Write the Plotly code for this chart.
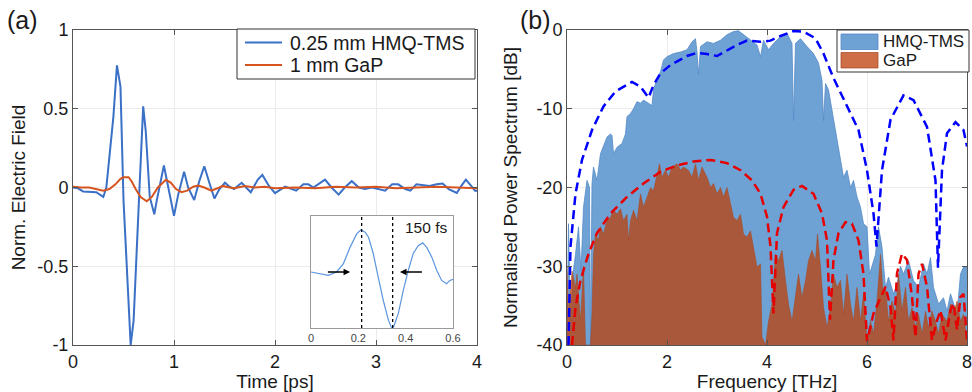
import plotly.graph_objects as go

# ---------------- Panel (a): normalised THz electric field ----------------
t_hmq = [0.00, 0.05, 0.10, 0.17, 0.23, 0.30, 0.33, 0.40, 0.435, 0.47, 0.50, 0.571, 0.60, 0.66,
         0.695, 0.72, 0.76, 0.805, 0.83, 0.90, 0.93, 1.00, 1.04, 1.10, 1.14, 1.20, 1.25, 1.30,
         1.35, 1.40, 1.45, 1.505, 1.55, 1.594, 1.67, 1.76, 1.83, 1.875, 1.94, 2.00, 2.10, 2.21,
         2.28, 2.33, 2.38, 2.43, 2.495, 2.56, 2.63, 2.69, 2.76, 2.83, 2.89, 2.96, 3.02, 3.09,
         3.16, 3.22, 3.29, 3.34, 3.40, 3.47, 3.53, 3.60, 3.66, 3.72, 3.80, 3.85, 3.89, 3.93,
         3.98, 4.00]
e_hmq = [0.0, -0.005, -0.025, -0.03, -0.03, -0.06, 0.0, 0.45, 0.775, 0.64, -0.08, -1.0, -0.845, 0.02,
         0.515, 0.36, -0.06, -0.17, -0.08, 0.14, 0.05, -0.18, -0.05, 0.10, 0.0, -0.08, 0.04, 0.135,
         0.03, -0.07, -0.01, 0.03, 0.005, -0.01, 0.03, -0.03, 0.05, 0.08, 0.01, -0.036, 0.006, -0.02,
         0.02, 0.02, 0.0, 0.02, 0.05, 0.0, -0.045, 0.0, 0.04, 0.0, -0.01, 0.0, -0.01, -0.02,
         0.02, 0.02, -0.01, -0.02, 0.02, 0.015, 0.01, 0.02, 0.025, -0.01, -0.035, 0.015, 0.05, 0.02,
         -0.02, -0.02]

t_gap = [0.00, 0.08, 0.16, 0.22, 0.30, 0.36, 0.42, 0.47, 0.50, 0.55, 0.58, 0.62, 0.67, 0.73,
         0.78, 0.84, 0.92, 0.97, 1.02, 1.075, 1.13, 1.19, 1.24, 1.30, 1.37, 1.43, 1.48, 1.55,
         1.60, 1.70, 1.80, 1.90, 2.00, 2.20, 2.40, 2.60, 2.80, 3.00, 3.20, 3.40, 3.60, 3.80, 4.00]
e_gap = [0.005, 0.0, 0.0, -0.01, -0.02, -0.01, 0.02, 0.055, 0.065, 0.065, 0.04, -0.01, -0.06, -0.087,
         -0.06, 0.0, 0.049, 0.03, -0.01, -0.03, -0.02, 0.005, 0.013, 0.0, -0.02, -0.005, 0.01, 0.0,
         -0.005, 0.01, 0.0, 0.005, -0.005, 0.0, -0.005, 0.005, 0.0, 0.005, -0.005, 0.0, 0.005, 0.0, -0.005]

# inset: zoom of the main cycle (0 - 0.6 ps)
t_inset = [0.0, 0.04, 0.073, 0.108, 0.137, 0.165, 0.193, 0.21, 0.229, 0.243, 0.263, 0.284, 0.305,
           0.327, 0.341, 0.35, 0.369, 0.39, 0.411, 0.432, 0.453, 0.472, 0.489, 0.51, 0.531, 0.552,
           0.573, 0.587, 0.60]
e_inset = [0.0, -0.04, -0.06, 0.0, 0.15, 0.44, 0.68, 0.75, 0.71, 0.62, 0.33, -0.09, -0.50,
           -0.86, -1.0, -0.97, -0.74, -0.33, 0.03, 0.33, 0.47, 0.52, 0.44, 0.27, 0.03, -0.15,
           -0.21, -0.15, -0.13]
marker_t = [0.214, 0.345]
inset_label = "150 fs"

# ---------------- Panel (b): normalised power spectra ----------------
f_hmq = [0.0, 0.03, 0.07, 0.12, 0.17, 0.23, 0.28, 0.33, 0.40, 0.45, 0.47, 0.50, 0.53, 0.60, 0.67,
         0.73, 0.80, 0.87, 0.90, 0.93, 1.00, 1.10, 1.17, 1.20, 1.27, 1.33, 1.40, 1.47, 1.53, 1.63,
         1.70, 1.73, 1.80, 1.87, 1.93, 2.00, 2.13, 2.27, 2.40, 2.50, 2.57, 2.60, 2.63, 2.67, 2.80,
         2.93, 3.07, 3.20, 3.33, 3.43, 3.53, 3.67, 3.80, 3.87, 3.93, 4.03, 4.13, 4.27, 4.40, 4.50,
         4.53, 4.57, 4.67, 4.80, 4.93, 5.03, 5.10, 5.13, 5.17, 5.23, 5.30, 5.37, 5.47, 5.53, 5.60,
         5.67, 5.73, 5.80, 5.87, 5.93, 6.00, 6.05, 6.10, 6.17, 6.23, 6.30, 6.37, 6.43, 6.53, 6.60,
         6.67, 6.73, 6.83, 6.93, 7.03, 7.13, 7.20, 7.27, 7.33, 7.43, 7.53, 7.60, 7.67, 7.73, 7.80,
         7.87, 7.93, 8.00]
p_hmq = [-40, -24.6, -37, -31, -28.5, -25, -30.6, -22.5, -19.1, -20, -40, -19.5, -17.4, -19.1, -15.7,
         -14.6, -13.6, -13.2, -13.4, -15.7, -14.9, -14.4, -13.2, -11, -10.6, -10, -9.1, -9.3, -8.9, -9.3,
         -9.6, -7.6, -6.2, -5.3, -3.8, -3.4, -3.0, -2.8, -2.5, -1.5, -1.1, -2.8, -5.7, -2.1, -1.5,
         -1.7, -1.3, -0.6, -0.2, -0.1, -0.6, -1.3, -1.9, -3.4, -1.3, -2.5, -1.7, -0.85, -0.4, -1.7,
         -11.5, -1.7, -1.1, -2.1, -3.0, -4.2, -6.4, -11.5, -6.8, -7.6, -10.2, -13.2, -16.6, -18.7, -17.8,
         -20, -19.1, -21.2, -22.5, -24.6, -25, -31, -30, -28.5, -25, -27.6, -32.7, -31.4, -33.5, -32.3,
         -30, -31, -29.3, -31.8, -32.7, -29.7, -31, -28.9, -32.7, -34.8, -34, -35.7, -33.5, -34.8, -36.1,
         -31, -30.1, -30.1]

f_gap = [0.0, 0.03, 0.10, 0.17, 0.20, 0.27, 0.33, 0.37, 0.40, 0.47, 0.50, 0.53, 0.57, 0.63, 0.67,
         0.73, 0.80, 0.87, 0.93, 1.00, 1.07, 1.13, 1.20, 1.23, 1.27, 1.33, 1.40, 1.47, 1.53, 1.60,
         1.67, 1.73, 1.80, 1.85, 1.90, 1.97, 2.03, 2.10, 2.20, 2.27, 2.33, 2.43, 2.50, 2.57, 2.63,
         2.70, 2.80, 2.87, 2.93, 3.00, 3.07, 3.13, 3.20, 3.27, 3.33, 3.40, 3.47, 3.53, 3.60, 3.67,
         3.73, 3.80, 3.87, 3.90, 3.97, 4.03, 4.10, 4.17, 4.23, 4.30, 4.37, 4.43, 4.50, 4.57, 4.63,
         4.70, 4.77, 4.83, 4.90, 4.97, 5.01, 5.07, 5.13, 5.20, 5.27, 5.33, 5.40, 5.47, 5.53, 5.60,
         5.67, 5.73, 5.80, 5.87, 5.93, 6.00, 6.07, 6.13, 6.20, 6.27, 6.32, 6.37, 6.43, 6.50, 6.57,
         6.63, 6.70, 6.77, 6.83, 6.90, 6.97, 7.03, 7.10, 7.17, 7.23, 7.30, 7.37, 7.43, 7.50, 7.60,
         7.67, 7.73, 7.80, 7.87, 7.93, 8.00]
p_gap = [-30, -36, -30.6, -32.7, -31, -37, -30, -40, -40, -40, -36, -28.5, -25.9, -26.7, -25,
         -25.9, -24.2, -23.8, -22.9, -23.4, -22.7, -24.2, -23.4, -26.7, -24.2, -22.9, -24.2, -20.8, -22.5, -21.2,
         -20, -20.4, -18.3, -17, -18.7, -17.8, -18.7, -17.4, -17, -17.8, -17.4, -17.8, -18.7, -17, -19.1,
         -17.4, -18.7, -20, -19.5, -20.8, -20, -21.2, -20, -22.1, -23.8, -24.2, -23.4, -25.9, -26.3, -25.5,
         -27.6, -30.1, -29.7, -39, -40, -37, -34.8, -28.5, -29.3, -28, -31.8, -34.8, -37, -33.5, -31,
         -34, -31.8, -29.3, -28, -29.3, -25.9, -30.1, -35.2, -37.8, -35.2, -31, -32.7, -31.8, -36.1, -31,
         -34.8, -37, -32.7, -37, -33.5, -39.5, -37, -38.6, -34.4, -28.5, -33.5, -32.7, -37, -34.4, -36.1,
         -31, -35.7, -32.7, -37, -35.2, -37.8, -36.1, -38.6, -35.7, -37.8, -35.7, -37, -38.6, -36.1, -37,
         -34.8, -36.1, -34.4, -37, -36.1, -39.5]

f_hmq_th = [0.03, 0.07, 0.17, 0.30, 0.50, 0.73, 0.97, 1.30, 1.47, 1.63, 1.73, 1.87, 2.07, 2.40,
            2.60, 2.80, 3.00, 3.20, 3.40, 3.60, 3.87, 4.07, 4.27, 4.53, 4.73, 4.97, 5.13, 5.33,
            5.60, 5.83, 6.00, 6.13, 6.19, 6.30, 6.47, 6.73, 6.93, 7.20, 7.37, 7.42, 7.50, 7.60,
            7.77, 7.93, 8.00]
p_hmq_th = [-40, -27.5, -20.8, -16.5, -12.7, -9.7, -7.8, -6.6, -7.2, -8.6, -7.0, -5.5, -4.45, -3.3,
            -2.9, -3.05, -3.3, -2.6, -1.9, -1.35, -1.5, -1.35, -0.76, -0.13, -0.2, -1.06, -3.0, -6.1,
            -9.7, -12.7, -17.8, -23.3, -27.5, -17.8, -11.4, -8.3, -8.9, -12.3, -19.1, -30.2, -17.8, -13.1,
            -11.7, -12.7, -14.8]

f_gap_th = [0.10, 0.17, 0.27, 0.43, 0.60, 0.87, 1.20, 1.53, 1.87, 2.20, 2.53, 2.87, 3.20, 3.47,
            3.70, 3.87, 4.00, 4.07, 4.13, 4.20, 4.33, 4.53, 4.70, 4.93, 5.10, 5.20, 5.26, 5.33,
            5.43, 5.57, 5.70, 5.83, 5.93, 6.00, 6.13, 6.27, 6.37, 6.47, 6.53, 6.60, 6.70, 6.80,
            6.90, 6.97, 7.03, 7.10, 7.20, 7.30, 7.40, 7.47, 7.57, 7.67, 7.73, 7.80, 7.87, 7.93, 8.00]
p_gap_th = [-40, -35.2, -31.8, -28.4, -25.8, -23.3, -21.2, -19.5, -18.0, -17.2, -16.7, -16.5, -16.9, -17.8,
            -19.1, -20.8, -23.7, -27.5, -36, -25.8, -22.5, -20.3, -19.8, -20.8, -23.3, -26.7, -36.8, -29.2,
            -25.8, -24.4, -24.6, -26.7, -31, -39.5, -36, -33.9, -32.6, -35.2, -39.4, -30.9, -28.4, -29.2,
            -33.9, -39, -31, -29.7, -32.6, -39.4, -36.9, -35.6, -39.4, -35.6, -34.7, -38.1, -33.9, -33.5, -39.4]

legend_a = ["0.25 mm HMQ-TMS", "1 mm GaP"]
legend_b = ["HMQ-TMS", "GaP"]

X_RANGE_A = [0, 4]
Y_RANGE_A = [-1, 1]
X_RANGE_B = [0, 8]
Y_RANGE_B = [-40, 0]

W, H = 972, 392
FONT = "Liberation Sans, Arial, Helvetica, sans-serif"
TXT = "#1a1a1a"
BLUE_LINE = "#3a70c6"
ORANGE_LINE = "#d6541f"
BLUE_FILL = "rgb(110,162,213)"
BLUE_EDGE = "rgb(85,138,198)"
ORANGE_FILL = "rgba(189,65,12,0.76)"
ORANGE_EDGE = "rgba(170,70,30,0.9)"


def px(x):
    return x / W


def py(y):
    return 1 - y / H


fig = go.Figure()

# panel (a)
fig.add_trace(go.Scatter(x=t_hmq, y=e_hmq, mode="lines", name=legend_a[0], showlegend=False,
                         line=dict(color=BLUE_LINE, width=2), xaxis="x", yaxis="y"))
fig.add_trace(go.Scatter(x=t_gap, y=e_gap, mode="lines", name=legend_a[1], showlegend=False,
                         line=dict(color=ORANGE_LINE, width=2), xaxis="x", yaxis="y"))

# inset
fig.add_trace(go.Scatter(x=t_inset, y=e_inset, mode="lines", showlegend=False,
                         line=dict(color="#5b95de", width=1.2), xaxis="x3", yaxis="y3"))

# panel (b)
fig.add_trace(go.Scatter(x=[X_RANGE_B[0], X_RANGE_B[1]], y=[Y_RANGE_B[0], Y_RANGE_B[0]], mode="lines",
                         line=dict(width=0), showlegend=False, hoverinfo="skip", xaxis="x2", yaxis="y2"))
fig.add_trace(go.Scatter(x=f_hmq, y=p_hmq, mode="lines", name=legend_b[0], fill="tonexty",
                         fillcolor=BLUE_FILL, line=dict(color=BLUE_EDGE, width=0.8),
                         showlegend=False, xaxis="x2", yaxis="y2"))
fig.add_trace(go.Scatter(x=[X_RANGE_B[0], X_RANGE_B[1]], y=[Y_RANGE_B[0], Y_RANGE_B[0]], mode="lines",
                         line=dict(width=0), showlegend=False, hoverinfo="skip", xaxis="x2", yaxis="y2"))
fig.add_trace(go.Scatter(x=f_gap, y=p_gap, mode="lines", name=legend_b[1], fill="tonexty",
                         fillcolor=ORANGE_FILL, line=dict(color=ORANGE_EDGE, width=0.6),
                         showlegend=False, xaxis="x2", yaxis="y2"))
fig.add_trace(go.Scatter(x=f_hmq_th, y=p_hmq_th, mode="lines", showlegend=False,
                         line=dict(color="#0000ff", width=2.5, dash="9px,5px"), xaxis="x2", yaxis="y2"))
fig.add_trace(go.Scatter(x=f_gap_th, y=p_gap_th, mode="lines", showlegend=False,
                         line=dict(color="#e60000", width=2.5, dash="9px,5px"), xaxis="x2", yaxis="y2"))

axis_common = dict(showline=True, linecolor="#555555", linewidth=1, mirror="ticks", ticks="inside",
                   ticklen=5, tickcolor="#555555", showgrid=True, gridcolor="#ebebeb", zeroline=False,
                   automargin=False, ticklabeloverflow="allow",
                   tickfont=dict(size=18, color=TXT, family=FONT))

ya_ticks = [-1, -0.5, 0, 0.5, 1]
yb_ticks = [-40, -30, -20, -10, 0]

fig.update_layout(
    template="none",
    width=W, height=H, margin=dict(l=0, r=0, t=0, b=0, autoexpand=False),
    paper_bgcolor="white", plot_bgcolor="white",
    font=dict(family=FONT, color=TXT),
    showlegend=False,
    xaxis=dict(domain=[px(73), px(477)], range=X_RANGE_A, tickvals=[0, 1, 2, 3, 4], anchor="y",
               title=dict(text="Time [ps]", font=dict(size=19), standoff=2), **axis_common),
    yaxis=dict(domain=[py(345), py(30)], range=Y_RANGE_A, tickvals=ya_ticks,
               ticktext=["%g" % v for v in ya_ticks], anchor="x",
               title=dict(text="Norm. Electric Field", font=dict(size=19), standoff=6), **axis_common),
    xaxis2=dict(domain=[px(567), px(967)], range=X_RANGE_B, tickvals=[0, 2, 4, 6, 8], anchor="y2",
                title=dict(text="Frequency [THz]", font=dict(size=19), standoff=2), **axis_common),
    yaxis2=dict(domain=[py(345), py(30)], range=Y_RANGE_B, tickvals=yb_ticks,
                ticktext=["%d" % v for v in yb_ticks], anchor="x2",
                title=dict(text="Normalised Power Spectrum [dB]", font=dict(size=19), standoff=13),
                **axis_common),
    xaxis3=dict(domain=[px(311), px(453)], range=[0, 0.6], tickvals=[0, 0.2, 0.4, 0.6],
                ticktext=["0", "0.2", "0.4", "0.6"], anchor="y3", showline=True, mirror=True,
                linecolor="#9a9a9a", linewidth=1, showgrid=False, zeroline=False, ticks="",
                automargin=False, tickfont=dict(size=11, color="#444444", family=FONT)),
    yaxis3=dict(domain=[py(328), py(216)], range=[-1.0, 1.0], anchor="x3", showline=True, mirror=True,
                linecolor="#9a9a9a", linewidth=1, showgrid=False, zeroline=False, ticks="",
                automargin=False, showticklabels=False),
)

shapes = [
    # white background of the inset
    dict(type="rect", xref="x3 domain", yref="y3 domain", x0=0, x1=1, y0=0, y1=1,
         fillcolor="white", line=dict(width=0), layer="below"),
]
for mt in marker_t:
    shapes.append(dict(type="line", xref="x3", yref="y3 domain", x0=mt, x1=mt, y0=0, y1=1,
                       line=dict(color="black", width=1.3, dash="dot")))

# legend (a)
shapes.append(dict(type="rect", xref="paper", yref="paper", x0=px(237), x1=px(475), y0=py(79), y1=py(29),
                   fillcolor="white", line=dict(color="#333333", width=1)))
rows_a = [42.5, 65]
for yy, col in zip(rows_a, [BLUE_LINE, ORANGE_LINE]):
    shapes.append(dict(type="line", xref="paper", yref="paper", x0=px(245), x1=px(282), y0=py(yy), y1=py(yy),
                       line=dict(color=col, width=2)))
# legend (b)
shapes.append(dict(type="rect", xref="paper", yref="paper", x0=px(837), x1=px(969), y0=py(72), y1=py(30),
                   fillcolor="white", line=dict(color="#333333", width=1)))
rows_b = [(34, 49.5), (52.5, 68)]
for (y0, y1), fc, lc in zip(rows_b, [BLUE_FILL, ORANGE_FILL], [BLUE_EDGE, ORANGE_EDGE]):
    shapes.append(dict(type="rect", xref="paper", yref="paper", x0=px(841), x1=px(878), y0=py(y1), y1=py(y0),
                       fillcolor=fc, line=dict(color=lc, width=0.8)))
fig.update_layout(shapes=shapes)

annotations = [
    dict(text="(a)", xref="paper", yref="paper", x=px(5), y=py(4), xanchor="left",
         yanchor="top", showarrow=False, font=dict(size=25, family=FONT, color=TXT)),
    dict(text="(b)", xref="paper", yref="paper", x=px(518), y=py(4), xanchor="left",
         yanchor="top", showarrow=False, font=dict(size=25, family=FONT, color=TXT)),
    dict(text=inset_label, xref="x3", yref="y3", x=0.585, y=0.79, xanchor="right", yanchor="middle",
         showarrow=False, font=dict(size=15.5, family=FONT, color=TXT)),
    dict(text="", xref="x3", yref="y3", x=0.165, y=0.0, ax=0.065, ay=0.0, axref="x3", ayref="y3",
         showarrow=True, arrowhead=2, arrowsize=1, arrowwidth=1.3, arrowcolor="black"),
    dict(text="", xref="x3", yref="y3", x=0.376, y=0.0, ax=0.475, ay=0.0, axref="x3", ayref="y3",
         showarrow=True, arrowhead=2, arrowsize=1, arrowwidth=1.3, arrowcolor="black"),
]
for yy, txt in zip(rows_a, legend_a):
    annotations.append(dict(text=txt, xref="paper", yref="paper", x=px(288), y=py(yy), xanchor="left",
                            yanchor="middle", showarrow=False, font=dict(size=19.5, family=FONT, color=TXT)))
for (y0, y1), txt in zip(rows_b, legend_b):
    annotations.append(dict(text=txt, xref="paper", yref="paper", x=px(881), y=py((y0 + y1) / 2),
                            xanchor="left", yanchor="middle", showarrow=False,
                            font=dict(size=17, family=FONT, color=TXT)))
fig.update_layout(annotations=annotations)

fig.write_html("out.html", config={"displayModeBar": False},
               post_script="document.body.style.margin='0';document.body.style.overflow='hidden';")
